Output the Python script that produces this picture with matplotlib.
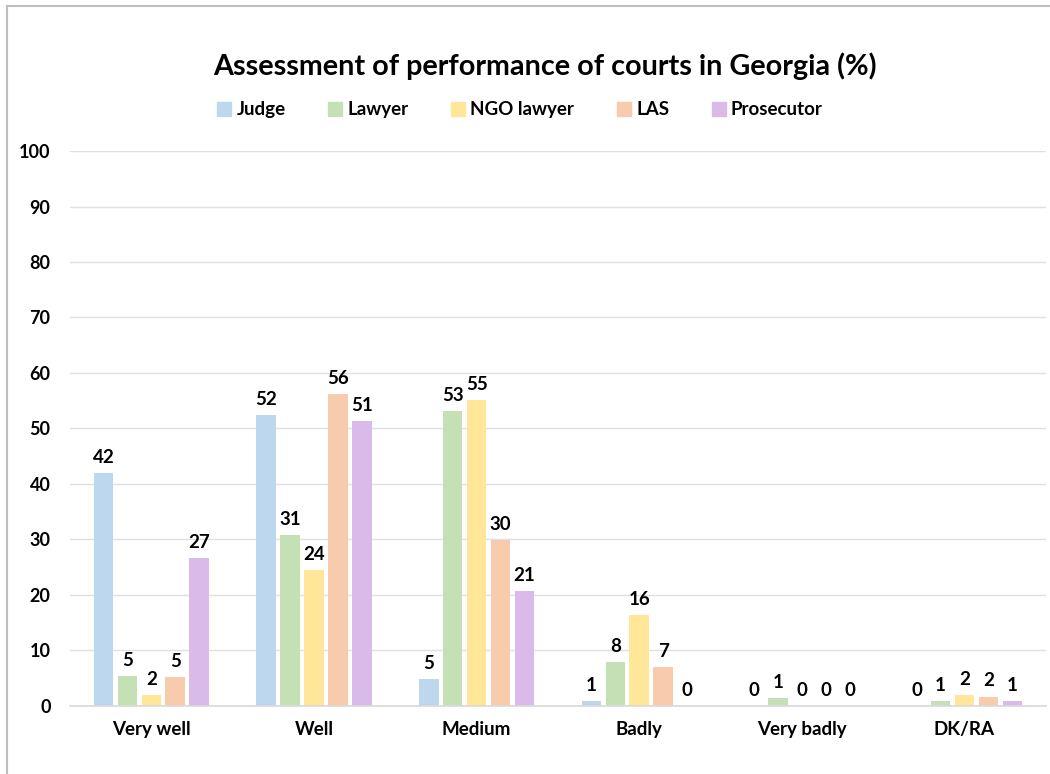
import matplotlib
matplotlib.use("Agg")
import matplotlib.pyplot as plt
import numpy as np
from matplotlib.lines import Line2D

plt.rcParams['font.family'] = ['Lato', 'DejaVu Sans']
plt.rcParams['font.weight'] = 'bold'

categories = ["Very well", "Well", "Medium", "Badly", "Very badly", "DK/RA"]
series_names = ["Judge", "Lawyer", "NGO lawyer", "LAS", "Prosecutor"]
judge = [42.0, 52.4, 4.9, 0.9, 0.0, 0.0]
lawyer = [5.4, 30.8, 53.2, 7.9, 1.4, 0.9]
ngo_lawyer = [2.0, 24.5, 55.1, 16.4, 0.0, 1.9]
las = [5.2, 56.2, 29.9, 7.0, 0.0, 1.7]
prosecutor = [26.7, 51.4, 20.7, 0.0, 0.0, 0.9]
yticks = [0, 10, 20, 30, 40, 50, 60, 70, 80, 90, 100]

colors = ["#BDD7EE", "#C5E0B4", "#FFE699", "#F8CBAD", "#D9BAE8"]
series = [judge, lawyer, ngo_lawyer, las, prosecutor]

fig = plt.figure(figsize=(10.5, 7.74), dpi=100)
ax = fig.add_axes([0.0667, 0.0879, 0.9293, 0.7170])

x = np.arange(len(categories))
pitch = 0.147
width = 0.12
for i, (name, vals, c) in enumerate(zip(series_names, series, colors)):
    pos = x + (i - 2) * pitch
    ax.bar(pos, vals, width=width, color=c, label=name, zorder=3)
    for p, v in zip(pos, vals):
        ax.text(p, v + 1.3, f"{round(v):d}", ha='center', va='bottom',
                fontsize=13.5, fontweight='bold', color='black')

ax.set_ylim(0, 100)
ax.set_xlim(-0.5, len(categories) - 0.5)
ax.set_yticks(yticks)
ax.set_yticklabels([str(t) for t in yticks], fontsize=13, fontweight='bold')
ax.set_xticks(x)
ax.set_xticklabels(categories, fontsize=13.5, fontweight='bold')
ax.tick_params(axis='both', length=0)
ax.tick_params(axis='y', pad=14)
ax.tick_params(axis='x', pad=11)
ax.yaxis.grid(True, color='#E0E0E0', linewidth=1, zorder=0)
for s in ['top', 'right', 'left']:
    ax.spines[s].set_visible(False)
ax.spines['bottom'].set_color('#D9D9D9')
ax.spines['bottom'].set_linewidth(1.2)
ax.spines['bottom'].set_zorder(4)

fig.text(0.5186, 0.915, "Assessment of performance of courts in Georgia (%)",
         ha='center', va='center', fontsize=20.7, fontweight='bold')

handles = [Line2D([], [], marker='s', linestyle='none', markersize=9.5,
                  markerfacecolor=c, markeredgecolor=c) for c in colors]
fig.legend(handles, series_names, loc='center', bbox_to_anchor=(0.495, 0.858),
           ncol=5, frameon=False, fontsize=13.5, handletextpad=0.25,
           columnspacing=2.25, handlelength=0.8)

# outer chart border (left and top)
fig.add_artist(Line2D([0.0067, 0.0067], [0, 0.992], transform=fig.transFigure,
                      color='#BFBFBF', linewidth=1.5))
fig.add_artist(Line2D([0.0067, 1.0], [0.992, 0.992], transform=fig.transFigure,
                      color='#BFBFBF', linewidth=1.5))

fig.savefig("out.png", dpi=100)
